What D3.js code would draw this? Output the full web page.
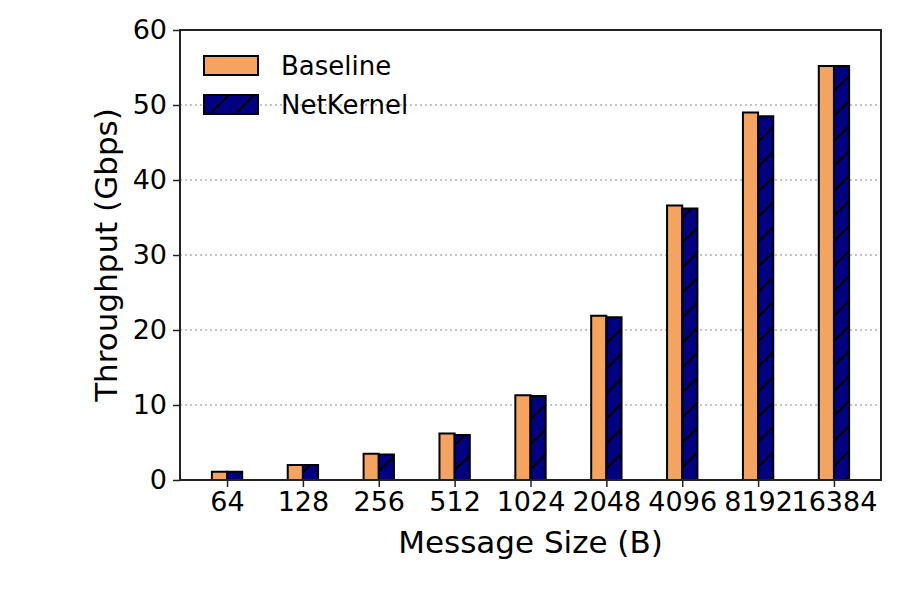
<!DOCTYPE html>
<html>
<head>
<meta charset="utf-8">
<script src="https://cdn.jsdelivr.net/npm/d3@7"></script>
<style>
  body { margin: 0; background: #fff; }
  text { font-family: "DejaVu Sans", sans-serif; fill: #000; }
</style>
</head>
<body>
<div id="chart"></div>
<script>
// Data
const sizes = ['64', '128', '256', '512', '1024', '2048', '4096', '8192', '16384'];
const baseline = [1.1, 2.0, 3.5, 6.2, 11.3, 21.9, 36.6, 49.0, 55.2];
const netkernel = [1.1, 2.0, 3.4, 6.0, 11.2, 21.7, 36.2, 48.5, 55.2];
const yTicks = [0, 10, 20, 30, 40, 50, 60];

// Size of the chart
const width = 900;
const height = 600;
const plotLeft = 180, plotRight = 881, plotTop = 30, plotBottom = 480;
const barW = 0.2;

const svg = d3.select('#chart')
  .append('svg')
  .attr('width', width)
  .attr('height', height);

// Hatch pattern for NetKernel bars
const pat = svg.append('defs').append('pattern')
  .attr('id', 'hatch')
  .attr('patternUnits', 'userSpaceOnUse')
  .attr('width', 25)
  .attr('height', 25);
pat.append('rect').attr('width', 25).attr('height', 25).attr('fill', '#000080');
pat.append('path')
  .attr('d', 'M-5,5 L5,-5 M0,25 L25,0 M20,30 L30,20')
  .attr('stroke', '#000')
  .attr('stroke-width', 2);

// Scales
const x = d3.scaleLinear().domain([-0.62, 8.62]).range([plotLeft, plotRight]);
const y = d3.scaleLinear().domain([0, 60]).range([plotBottom, plotTop]);

// Grid lines
svg.append('g')
  .selectAll('line')
  .data(yTicks.filter(d => d > 0 && d < 60))
  .enter()
  .append('line')
  .attr('x1', plotLeft)
  .attr('x2', plotRight)
  .attr('y1', d => y(d))
  .attr('y2', d => y(d))
  .attr('stroke', '#b0b0b0')
  .attr('stroke-width', 1.5)
  .attr('stroke-dasharray', '2,3');

// Bars
svg.append('g')
  .selectAll('rect')
  .data(baseline)
  .enter()
  .append('rect')
  .attr('x', (d, i) => x(i - barW))
  .attr('y', d => y(d))
  .attr('width', x(barW) - x(0))
  .attr('height', d => y(0) - y(d))
  .attr('fill', '#f4a460')
  .attr('stroke', '#000')
  .attr('stroke-width', 2);

svg.append('g')
  .selectAll('rect')
  .data(netkernel)
  .enter()
  .append('rect')
  .attr('x', (d, i) => x(i))
  .attr('y', d => y(d))
  .attr('width', x(barW) - x(0))
  .attr('height', d => y(0) - y(d))
  .attr('fill', 'url(#hatch)')
  .attr('stroke', '#000')
  .attr('stroke-width', 2);

// Axes
const xAxis = svg.append('g')
  .attr('transform', `translate(0,${plotBottom})`)
  .call(d3.axisBottom(x).tickValues(d3.range(sizes.length)).tickFormat(i => sizes[i]).tickSize(7).tickPadding(5));
const yAxis = svg.append('g')
  .attr('transform', `translate(${plotLeft},0)`)
  .call(d3.axisLeft(y).tickValues(yTicks).tickSize(7).tickPadding(6));
[xAxis, yAxis].forEach(g => {
  g.select('.domain').remove();
  g.selectAll('line').attr('stroke', '#222').attr('stroke-width', 1.5);
  g.selectAll('text').style('font-size', '27px').style('font-family', '"DejaVu Sans", sans-serif').attr('fill', '#000');
});

// Frame
svg.append('rect')
  .attr('x', plotLeft)
  .attr('y', plotTop)
  .attr('width', plotRight - plotLeft)
  .attr('height', plotBottom - plotTop)
  .attr('fill', 'none')
  .attr('stroke', '#222')
  .attr('stroke-width', 2);

// Axis labels
svg.append('text')
  .attr('x', (plotLeft + plotRight) / 2)
  .attr('y', 553)
  .attr('text-anchor', 'middle')
  .style('font-size', '31px')
  .text('Message Size (B)');

svg.append('text')
  .attr('transform', `translate(117,${(plotTop + plotBottom) / 2}) rotate(-90)`)
  .attr('text-anchor', 'middle')
  .style('font-size', '31px')
  .text('Throughput (Gbps)');

// Legend
const legend = [
  { name: 'Baseline', fill: '#f4a460' },
  { name: 'NetKernel', fill: 'url(#hatch)' }
];
const lg = svg.append('g')
  .selectAll('g')
  .data(legend)
  .enter()
  .append('g')
  .attr('transform', (d, i) => `translate(204,${56 + i * 39})`);
lg.append('rect')
  .attr('width', 54)
  .attr('height', 19)
  .attr('fill', d => d.fill)
  .attr('stroke', '#000')
  .attr('stroke-width', 2);
lg.append('text')
  .attr('x', 77)
  .attr('y', 10)
  .attr('dy', '0.35em')
  .style('font-size', '26px')
  .text(d => d.name);
</script>
</body>
</html>
